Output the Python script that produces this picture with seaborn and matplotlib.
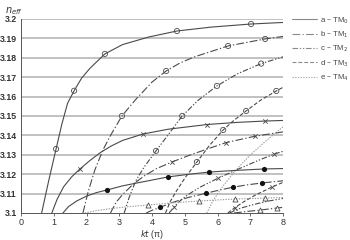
import pandas as pd
import seaborn as sns
import matplotlib.pyplot as plt

# values: kt (units of pi) vs effective index
# group "o" (open circles)
o_tm0_x = [0.63, 0.85, 1.07, 1.25, 1.42, 1.62, 1.85, 2.1, 2.56, 3.1, 3.9, 4.76, 5.8, 7.02, 8.0]
o_tm0_y = [3.100, 3.117, 3.133, 3.146, 3.1565, 3.163, 3.1695, 3.1745, 3.182, 3.1868, 3.1907,
           3.1938, 3.1958, 3.1974, 3.1982]
o_tm1_x = [1.89, 2.05, 2.25, 2.5, 2.75, 3.08, 3.5, 4.0, 4.43, 4.85, 5.3, 6.32, 7.45, 8.0]
o_tm1_y = [3.100, 3.111, 3.122, 3.1325, 3.1405, 3.150, 3.1585, 3.1675, 3.1732, 3.1773, 3.1805,
           3.1861, 3.1897, 3.1910]
o_tm2_x = [3.15, 3.3, 3.5, 3.75, 4.12, 4.5, 4.92, 5.4, 5.98, 6.6, 7.33, 8.0]
o_tm2_y = [3.100, 3.108, 3.1165, 3.1235, 3.132, 3.1405, 3.150, 3.158, 3.1655, 3.1717, 3.177, 3.1805]
o_tm3_x = [4.41, 4.55, 4.75, 5.0, 5.37, 5.75, 6.17, 6.5, 6.87, 7.3, 7.79, 8.0]
o_tm3_y = [3.100, 3.1058, 3.1115, 3.118, 3.1263, 3.1348, 3.1428, 3.1478, 3.1526, 3.158, 3.1629, 3.1648]
o_tm4_x = [5.67, 5.85, 6.1, 6.5, 7.0, 7.5, 8.0]
o_tm4_y = [3.100, 3.106, 3.1125, 3.121, 3.130, 3.1375, 3.1445]
o_mk_x = [1.07, 1.62, 2.56, 4.76, 7.02, 3.08, 4.43, 6.32, 7.45, 4.12, 4.92, 5.98, 7.33,
          5.37, 6.17, 6.87, 7.79]
o_mk_y = [3.133, 3.163, 3.182, 3.1938, 3.1974, 3.150, 3.1732, 3.1861, 3.1897, 3.132, 3.150,
          3.1655, 3.177, 3.1263, 3.1428, 3.1526, 3.1629]

# group "x" (crosses)
x_tm0_x = [0.94, 1.1, 1.3, 1.55, 1.8, 2.1, 2.41, 2.75, 3.1, 3.72, 4.5, 5.68, 6.6, 7.45, 8.0]
x_tm0_y = [3.100, 3.107, 3.1135, 3.1187, 3.1227, 3.127, 3.131, 3.1345, 3.1374, 3.1407, 3.1432,
           3.1456, 3.1467, 3.1474, 3.1477]
x_tm1_x = [2.73, 2.9, 3.1, 3.4, 3.75, 4.15, 4.61, 5.1, 5.65, 6.26, 7.15, 8.0]
x_tm1_y = [3.100, 3.1055, 3.1095, 3.1145, 3.119, 3.123, 3.1263, 3.1295, 3.1328, 3.1363, 3.1396, 3.1418]
x_tm2_x = [4.52, 4.67, 4.85, 5.1, 5.45, 6.02, 6.6, 7.2, 7.73, 8.0]
x_tm2_y = [3.100, 3.1031, 3.1062, 3.1095, 3.1132, 3.118, 3.1224, 3.1268, 3.1304, 3.1318]
x_tm3_x = [6.31, 6.53, 6.8, 7.15, 7.66, 8.0]
x_tm3_y = [3.100, 3.1028, 3.1058, 3.1092, 3.1134, 3.1158]
x_mk_x = [1.80, 3.72, 5.68, 7.45, 4.61, 6.26, 7.15, 4.67, 6.02, 7.73, 6.53, 7.66]
x_mk_y = [3.1227, 3.1407, 3.1456, 3.1474, 3.1263, 3.1363, 3.1396, 3.1031, 3.118, 3.1304,
          3.1028, 3.1134]

# group "filled" (filled circles)
f_tm0_x = [1.28, 1.45, 1.7, 2.0, 2.3, 2.63, 3.1, 3.7, 4.49, 5.1, 5.74, 6.5, 7.42, 8.0]
f_tm0_y = [3.100, 3.1033, 3.1062, 3.1087, 3.1105, 3.1119, 3.114, 3.116, 3.1186, 3.1199, 3.1211,
           3.1219, 3.1227, 3.1229]
f_tm1_x = [3.82, 4.0, 4.24, 4.6, 5.1, 5.65, 6.05, 6.47, 6.9, 7.36, 8.0]
f_tm1_y = [3.100, 3.1014, 3.1029, 3.1053, 3.108, 3.1102, 3.1118, 3.1133, 3.1145, 3.1155, 3.1166]
f_tm2_x = [6.36, 6.7, 7.2, 7.6, 8.0]
f_tm2_y = [3.100, 3.1025, 3.1048, 3.1063, 3.1075]
f_mk_x = [2.63, 4.49, 5.74, 7.42, 4.24, 5.65, 6.47, 7.36]
f_mk_y = [3.1119, 3.1186, 3.1211, 3.1227, 3.1029, 3.1102, 3.1133, 3.1155]

# group "triangle"
t_tm0_x = [1.95, 2.3, 2.8, 3.3, 3.88, 4.6, 5.44, 6.53, 7.45, 8.0]
t_tm0_y = [3.100, 3.1012, 3.1024, 3.1033, 3.1041, 3.1052, 3.1062, 3.1072, 3.1077, 3.1080]
t_tm1_x = [6.5, 6.9, 7.3, 7.82, 8.0]
t_tm1_y = [3.100, 3.1008, 3.1015, 3.1026, 3.1029]
t_mk_x = [3.88, 5.44, 6.53, 7.45, 7.30, 7.82]
t_mk_y = [3.1041, 3.1062, 3.1072, 3.1077, 3.1015, 3.1026]

legend_labels = ['a – TM$_0$', 'b – TM$_1$', 'c – TM$_2$', 'd – TM$_3$', 'e – TM$_4$']

dark = '#4a4a4a'
styles = {
    0: dict(ls='-', color=dark),
    1: dict(ls=(0, (7, 2, 1.2, 2)), color=dark),
    2: dict(ls=(0, (5, 1.6, 1.2, 1.6, 1.2, 1.6)), color=dark),
    3: dict(ls=(0, (3.5, 1.8)), color=dark),
    4: dict(ls=(0, (1.2, 1.2)), color='#9a9a9a'),
}

curves = [
    (o_tm0_x, o_tm0_y, 0), (o_tm1_x, o_tm1_y, 1), (o_tm2_x, o_tm2_y, 2),
    (o_tm3_x, o_tm3_y, 3), (o_tm4_x, o_tm4_y, 4),
    (x_tm0_x, x_tm0_y, 0), (x_tm1_x, x_tm1_y, 1), (x_tm2_x, x_tm2_y, 2), (x_tm3_x, x_tm3_y, 3),
    (f_tm0_x, f_tm0_y, 0), (f_tm1_x, f_tm1_y, 1), (f_tm2_x, f_tm2_y, 2),
    (t_tm0_x, t_tm0_y, 4), (t_tm1_x, t_tm1_y, 1),
]

sns.set_style('white')
plt.rcParams['font.family'] = ['Liberation Sans', 'DejaVu Sans']

fig = plt.figure(figsize=(3.5, 2.4), dpi=100)
ax = fig.add_axes([0.06, 0.1125, 0.749, 0.8085])

for y in [3.1 + 0.01 * i for i in range(1, 11)]:
    ax.axhline(y, color='#b0b0b0', lw=1.1, zorder=0)

for xs, ys, m in curves:
    st = styles[m]
    sns.lineplot(x=xs, y=ys, ax=ax, sort=False, estimator=None, color=st['color'],
                 linestyle=st['ls'], lw=0.8, zorder=2)

sns.scatterplot(x=o_mk_x, y=o_mk_y, ax=ax, marker='o', s=14, facecolor='none',
                edgecolor=dark, linewidth=0.6, zorder=3)
sns.scatterplot(x=x_mk_x, y=x_mk_y, ax=ax, marker='x', s=10, color=dark, linewidth=0.6, zorder=3)
sns.scatterplot(x=f_mk_x, y=f_mk_y, ax=ax, marker='o', s=14, color='#111111', linewidth=0, zorder=3)
sns.scatterplot(x=t_mk_x, y=t_mk_y, ax=ax, marker='^', s=13, facecolor='white',
                edgecolor=dark, linewidth=0.6, zorder=3)

ax.set_xlim(0, 8)
ax.set_ylim(3.1, 3.2)
ax.set_xticks(range(0, 9))
ax.set_yticks([3.1 + 0.01 * i for i in range(11)])
ax.set_yticklabels(['3.1', '3.11', '3.12', '3.13', '3.14', '3.15', '3.16', '3.17',
                    '3.18', '3.19', '3.2'])
ax.tick_params(axis='x', length=2, width=0.6, color='#555555', labelsize=6.5,
               labelcolor='#333333', pad=1.5, direction='out', bottom=True)
ax.tick_params(axis='y', length=0, labelsize=6.3, labelcolor='#333333', pad=3)
for lbl in ax.get_yticklabels():
    lbl.set_fontweight('bold')
for sp in ['top', 'right']:
    ax.spines[sp].set_visible(False)
for sp in ['left', 'bottom']:
    ax.spines[sp].set_color('#555555')
    ax.spines[sp].set_linewidth(0.7)

ax.set_xlabel('$kt$ (π)', fontsize=6.2, color='#333333', labelpad=0.5)
fig.text(0.015, 0.955, '$n_{eff}$', fontsize=7, color='#333333', ha='left', va='center')

handles = []
for m in range(5):
    st = styles[m]
    h, = ax.plot([], [], color='#8a8a8a' if m < 4 else '#aaaaaa', ls=st['ls'], lw=0.8)
    handles.append(h)
fig.legend(handles, legend_labels, loc='upper left', bbox_to_anchor=(292 / 350, 1 - 15 / 240),
           frameon=False, fontsize=5.6, handlelength=3.2, handletextpad=0.45,
           labelspacing=0.5, labelcolor='#444444', borderpad=0, borderaxespad=0)

fig.savefig('out.png', dpi=100)
